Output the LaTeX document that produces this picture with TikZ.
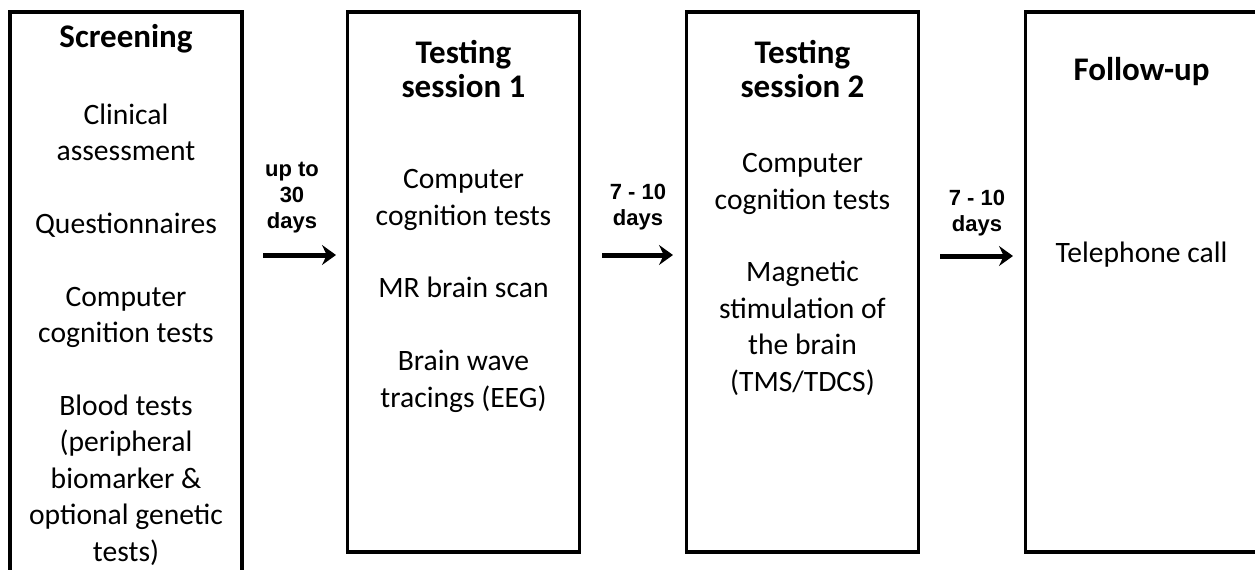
\documentclass[tikz,border=0pt]{standalone}
\usepackage{fontspec}
\setmainfont{Carlito}
\newfontfamily\daysfont{Liberation Sans}
\usepackage{tikz}
\usetikzlibrary{arrows.meta}
\definecolor{frameblack}{HTML}{000000}

\begin{document}
\begin{tikzpicture}[
    x=0.5pt, y=-0.5pt,
    phase/.style={draw=frameblack, line width=1.6pt, minimum width=116pt, inner sep=0pt},
    ttl/.style={align=center, anchor=base, inner sep=0pt, font=\fontsize{16.5}{17}\selectfont\bfseries},
    item/.style={align=center, anchor=base, inner sep=0pt, font=\fontsize{14.8}{18.2}\selectfont},
    gaplbl/.style={align=center, anchor=base, inner sep=0pt, font=\daysfont\bfseries\fontsize{11}{13}\selectfont},
    arr/.style={line width=2.5pt, -{Stealth[length=7pt, width=10pt, inset=2.4pt]}}
]
\useasboundingbox (0,0) rectangle (1255,569);
\clip (0,0) rectangle (1255,569);

% the four phases
\node[phase, minimum height=284pt] (screen) at (126,296) {};
\node[phase, minimum height=270pt] (sess1) at (463.5,282) {};
\node[phase, minimum height=270pt] (sess2) at (802.5,282) {};
\node[phase, minimum height=270pt] (follow) at (1141.5,282) {};

% (base = baseline of the last line)
\node[ttl] (screenT) at (126,47) {Screening};
\node[item] (screenB) at (126,561) {Clinical\\assessment\\[18.2pt]Questionnaires\\[18.2pt]Computer\\cognition tests\\[18.2pt]Blood tests\\(peripheral\\biomarker \&\\optional genetic\\tests)};

\node[ttl] (sess1T) at (463.5,97) {Testing\\session 1};
\node[item] (sess1B) at (463.5,407) {Computer\\cognition tests\\[18.2pt]MR brain scan\\[18.2pt]Brain wave\\tracings (EEG)};

\node[ttl] (sess2T) at (802.5,97) {Testing\\session 2};
\node[item] (sess2B) at (802.5,391) {Computer\\cognition tests\\[18.2pt]Magnetic\\stimulation of\\the brain\\(TMS/TDCS)};

\node[ttl] (followT) at (1141.5,80) {Follow-up};
\node[item] (followB) at (1141.5,262) {Telephone call};

% time between phases
\node[gaplbl] (gap1) at (292,228) {up to\\30\\days};
\node[gaplbl] (gap2) at (638,225) {7 - 10\\days};
\node[gaplbl] (gap3) at (977,231) {7 - 10\\days};

\coordinate (a1s) at (263,255);
\coordinate (a1e) at (336,255);
\coordinate (a2s) at (602,255);
\coordinate (a2e) at (673,255);
\coordinate (a3s) at (940,256);
\coordinate (a3e) at (1013,256);
\draw[arr] (a1s) -- (a1e);
\draw[arr] (a2s) -- (a2e);
\draw[arr] (a3s) -- (a3e);
\end{tikzpicture}
\end{document}
